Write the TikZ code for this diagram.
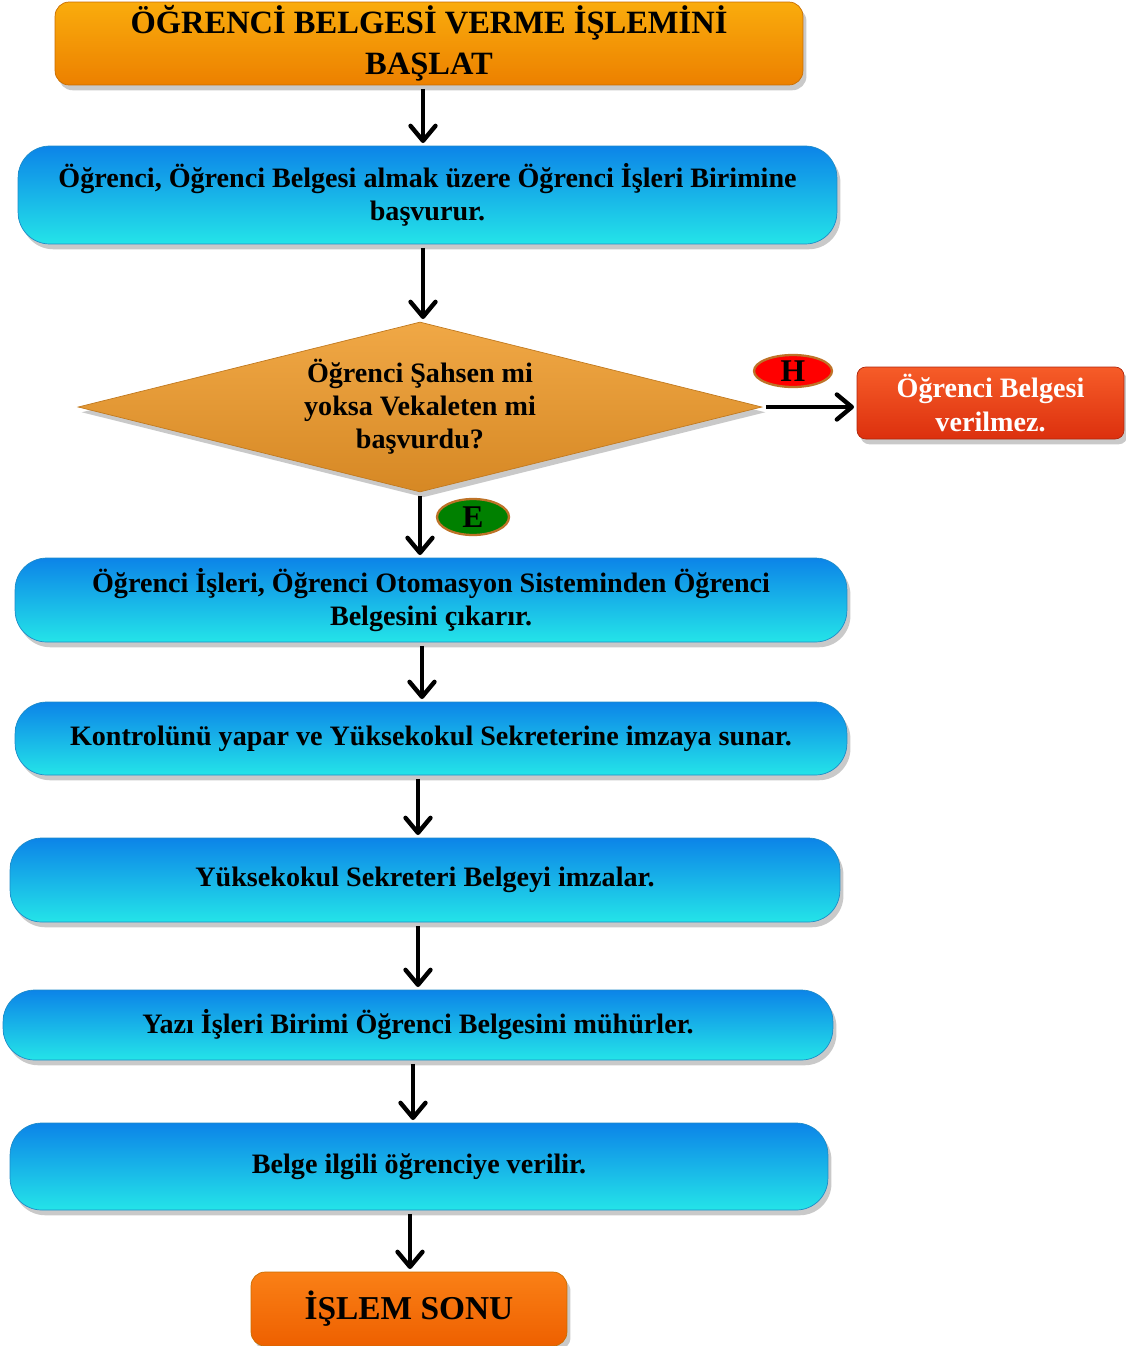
\documentclass[tikz,border=0pt]{standalone}
\usepackage{fontspec}
\setmainfont{Liberation Serif}
\usetikzlibrary{shapes.geometric,arrows.meta,shadows}

\definecolor{basTop}{RGB}{250,172,12}
\definecolor{basBot}{RGB}{236,128,0}
\definecolor{maviTop}{RGB}{12,132,232}
\definecolor{maviBot}{RGB}{36,228,232}
\definecolor{maviKenar}{RGB}{30,140,200}
\definecolor{karoTop}{RGB}{240,168,70}
\definecolor{karoBot}{RGB}{214,136,36}
\definecolor{kirTop}{RGB}{246,92,40}
\definecolor{kirBot}{RGB}{220,48,14}
\definecolor{sonTop}{RGB}{250,128,22}
\definecolor{sonBot}{RGB}{238,96,0}
\definecolor{etiketKenar}{RGB}{190,115,40}

\tikzset{
  golge/.style={drop shadow={shadow xshift=2pt,shadow yshift=-3pt,opacity=.3,fill=black!70}},
  yazi/.style={font=\bfseries\fontsize{16}{18.8}\selectfont,align=center,inner sep=0pt},
  basla/.style={rectangle,rounded corners=8pt,draw=basBot!85!black,top color=basTop,bottom color=basBot,golge,yazi,font=\bfseries\fontsize{18.5}{23.3}\selectfont},
  adim/.style={rectangle,rounded corners=18pt,draw=maviKenar,top color=maviTop,bottom color=maviBot,golge,yazi},
  karar/.style={diamond,shape aspect=4,draw=karoBot!90!black,top color=karoTop,bottom color=karoBot,golge,yazi},
  red/.style={rectangle,rounded corners=5pt,draw=kirBot!80!black,top color=kirTop,bottom color=kirBot,golge,yazi,text=white},
  etiket/.style={ellipse,draw=etiketKenar,line width=1.3pt,yazi,font=\bfseries\fontsize{18}{20}\selectfont},
  ok/.style={line width=2.5pt,-{Straight Barb[length=3mm,width=5mm,round]},shorten <=2pt,shorten >=1.5pt}
}

\begin{document}
\begin{tikzpicture}[x=0.02cm,y=-0.02cm]
  \useasboundingbox (0,0) rectangle (1126,1346);
  % kutular
  \node[basla,minimum width=14.96cm,minimum height=1.66cm] (bas) at (429,43.5) {ÖĞRENCİ BELGESİ VERME İŞLEMİNİ\\BAŞLAT};
  \node[adim,minimum width=16.38cm,minimum height=1.96cm] (b1) at (427.5,195) {Öğrenci, Öğrenci Belgesi almak üzere Öğrenci İşleri Birimine\\başvurur.};
  \node[karar,minimum width=13.68cm,minimum height=3.4cm] (kr) at (420,407) {Öğrenci Şahsen mi\\yoksa Vekaleten mi\\başvurdu?};
  \node[red,minimum width=5.34cm,minimum height=1.44cm] (hayir) at (990.5,403) {Öğrenci Belgesi\\verilmez.};
  \node[adim,minimum width=16.64cm,minimum height=1.68cm] (b3) at (431,600) {Öğrenci İşleri, Öğrenci Otomasyon Sisteminden Öğrenci\\Belgesini çıkarır.};
  \node[adim,minimum width=16.64cm,minimum height=1.46cm] (b4) at (431,738.5) {Kontrolünü yapar ve Yüksekokul Sekreterine imzaya sunar.};
  \node[adim,minimum width=16.6cm,minimum height=1.68cm] (b5) at (425,880) {Yüksekokul Sekreteri Belgeyi imzalar.};
  \node[adim,minimum width=16.6cm,minimum height=1.4cm] (b6) at (418,1025) {Yazı İşleri Birimi Öğrenci Belgesini mühürler.};
  \node[adim,minimum width=16.36cm,minimum height=1.74cm] (b7) at (419,1166.5) {Belge ilgili öğrenciye verilir.};
  \node[basla,top color=sonTop,bottom color=sonBot,minimum width=6.32cm,minimum height=1.48cm,font=\bfseries\fontsize{19}{22}\selectfont] (son) at (409,1309) {İŞLEM SONU};
  % evet / hayir
  \node[etiket,fill=red,minimum width=1.56cm,minimum height=0.64cm] (h) at (793,371) {H};
  \node[etiket,fill=green!50!black,minimum width=1.44cm,minimum height=0.72cm] (e) at (473,517) {E};
  % oklar
  \foreach \a/\b/\x in {bas/b1/423,b1/kr/423,kr/b3/420,b3/b4/422,b4/b5/418,b5/b6/418,b6/b7/413,b7/son/410}
    \draw[ok] (\a.south -| \x,0) -- (\b.north -| \x,0);
  \draw[ok] (kr.east) -- (kr.east -| hayir.west);
\end{tikzpicture}
\end{document}
